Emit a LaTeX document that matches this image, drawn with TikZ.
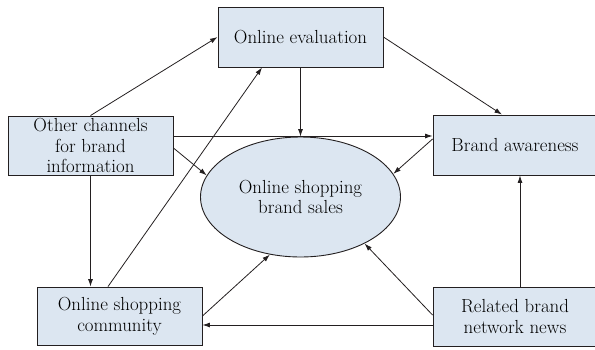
\documentclass[tikz,border=0pt]{standalone}
\usetikzlibrary{arrows.meta,shapes.geometric}
\definecolor{boxfill}{HTML}{DCE6F1}
\definecolor{ink}{HTML}{231F20}
\begin{document}
\begin{tikzpicture}[x=1pt,y=-1pt,
  every node/.style={font=\fontsize{18.9}{20.8}\selectfont, text=black},
  factor/.style={draw=ink, line width=0.9pt, fill=boxfill, rectangle,
    minimum width=165pt, minimum height=59pt, inner sep=0pt, align=center},
  target/.style={draw=ink, line width=0.9pt, fill=boxfill, ellipse,
    minimum width=200pt, minimum height=120pt, inner sep=0pt, align=center},
  arr/.style={draw=ink, line width=0.8pt, -{Latex[length=7.5pt,width=5pt]}}]
\useasboundingbox (0,0) rectangle (595,349);

% factor boxes
\node[factor, minimum height=60pt] (eval) at (300.5,37) {Online evaluation};
\node[factor] (other) at (90.5,145.5) {Other channels\\for brand\\information};
\node[factor, minimum width=164pt, minimum height=60pt] (aware) at (515,145) {Brand awareness};
\node[factor, minimum height=58pt] (comm) at (119.5,316) {Online shopping\\community};
\node[factor, minimum width=164pt] (news) at (515,316.5) {Related brand\\network news};

% central outcome
\node[target] (sales) at (300.5,197) {Online shopping\\brand sales};

% helper points on box sides
\coordinate (oh) at ([yshift=9.5pt]other.east);
\coordinate (nl) at ([yshift=-8.5pt]news.west);

% connectors
\draw[arr] (other.north) -- (eval.west);
\draw[arr] ([xshift=-11.5pt]comm.north) -- ([xshift=-38.5pt]eval.south);
\draw[arr] (eval.south) -- (sales.north);
\draw[arr] (eval.east) -- ([xshift=-13pt]aware.north);
\draw[arr] (oh) -- (oh -| aware.west);
\draw[arr] ([yshift=-2.5pt]other.east) -- (sales.167);
\draw[arr] ([yshift=6pt]aware.west) -- (sales.14.5);
\draw[arr] (other.south) -- (other.south |- comm.north);
\draw[arr] (comm.east) -- (sales.242);
\draw[arr] ([yshift=1.5pt]news.west) -- (sales.324);
\draw[arr] (nl) -- (nl -| comm.east);
\draw[arr] ([xshift=5pt]news.north) -- ([xshift=5pt]aware.south);
\end{tikzpicture}
\end{document}
